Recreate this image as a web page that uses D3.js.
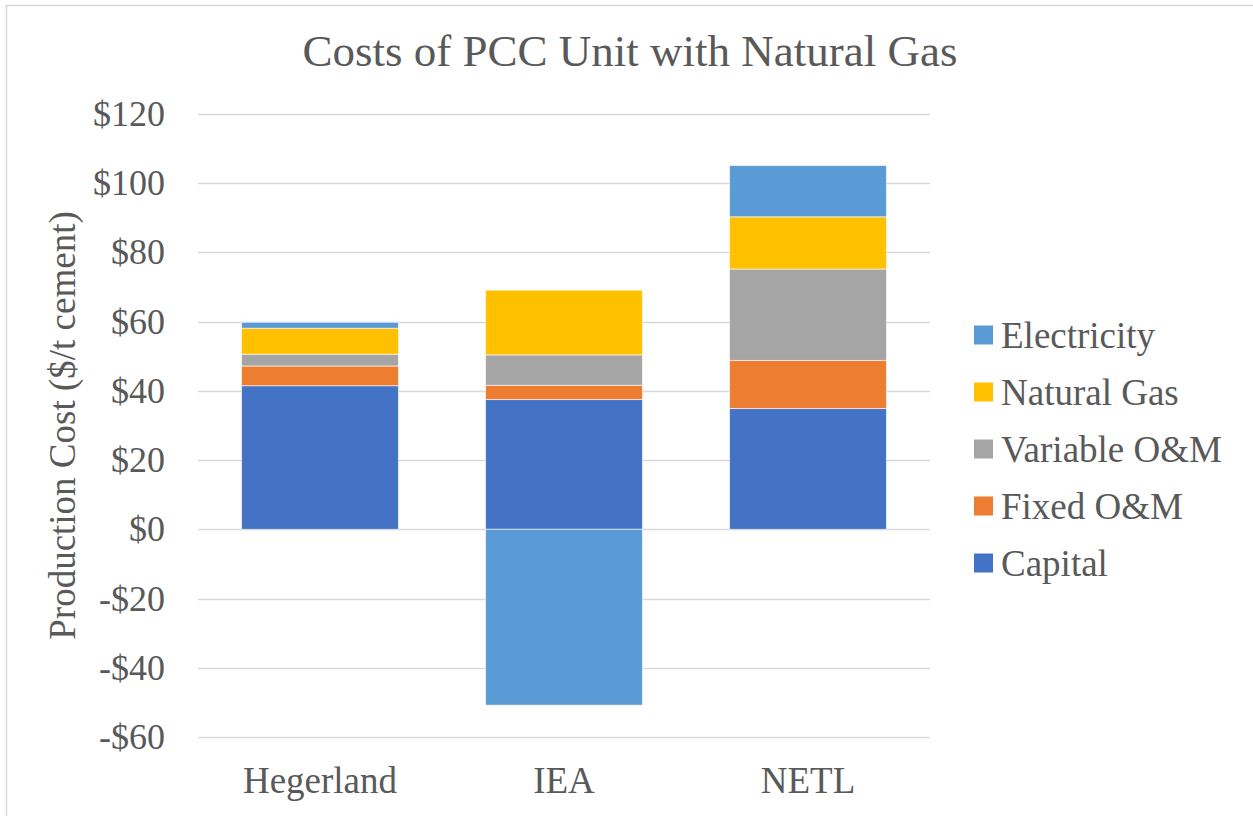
<!DOCTYPE html>
<html>
<head>
<meta charset="utf-8">
<script src="https://cdn.jsdelivr.net/npm/d3@7"></script>
<style>
  body { margin: 0; background: #fff; }
  text { font-family: "Liberation Serif", "Times New Roman", serif; fill: #595959; }
</style>
</head>
<body>
<div id="chart"></div>
<script>
// data
const categories = ['Hegerland', 'IEA', 'NETL'];
const capital = [41.5, 37.5, 34.9];
const fixedOM = [5.7, 4.1, 13.9];
const variableOM = [3.4, 8.8, 26.4];
const naturalGas = [7.5, 18.7, 15.1];
const electricity = [1.7, -50.8, 14.8];
const yTicks = [-60, -40, -20, 0, 20, 40, 60, 80, 100, 120];

const seriesNames = ['Capital', 'Fixed O&M', 'Variable O&M', 'Natural Gas', 'Electricity'];
const seriesValues = [capital, fixedOM, variableOM, naturalGas, electricity];
const colors = ['#4472C4', '#ED7D31', '#A5A5A5', '#FFC000', '#5B9BD5'];

const width = 1253, height = 816;
const margin = {top: 114, right: 323, bottom: 79, left: 198};
const innerW = width - margin.left - margin.right;
const innerH = height - margin.top - margin.bottom;

// build rows for d3.stack
const rows = categories.map((c, i) => {
  const r = {cat: c};
  seriesNames.forEach((s, j) => { r[s] = seriesValues[j][i]; });
  return r;
});

const stacked = d3.stack()
  .keys(seriesNames)
  .offset(d3.stackOffsetDiverging)(rows);

const svg = d3.select('#chart')
  .append('svg')
  .attr('width', width)
  .attr('height', height);

// chart border (top and left visible)
svg.append('rect')
  .attr('x', 6.5).attr('y', 5.5)
  .attr('width', width + 10).attr('height', height + 10)
  .attr('fill', 'none')
  .attr('stroke', '#d9d9d9')
  .attr('stroke-width', 1.5);

const g = svg.append('g')
  .attr('transform', 'translate(' + margin.left + ',' + margin.top + ')');

const x = d3.scaleBand()
  .domain(categories)
  .range([0, innerW])
  .paddingInner(0.357)
  .paddingOuter(0.1785);

const y = d3.scaleLinear()
  .domain([-60, 120])
  .range([innerH, 0]);

// gridlines
g.append('g')
  .selectAll('line')
  .data(yTicks)
  .enter()
  .append('line')
  .attr('x1', 0)
  .attr('x2', innerW)
  .attr('y1', d => Math.round(y(d)) + 0.5)
  .attr('y2', d => Math.round(y(d)) + 0.5)
  .attr('stroke', '#d9d9d9')
  .attr('stroke-width', 1.5);

// bars
g.append('g')
  .selectAll('g')
  .data(stacked)
  .enter()
  .append('g')
  .attr('fill', (d, i) => colors[i])
  .selectAll('rect')
  .data(d => d)
  .enter()
  .append('rect')
  .attr('x', d => x(d.data.cat))
  .attr('width', x.bandwidth())
  .attr('y', d => y(Math.max(d[0], d[1])))
  .attr('height', d => Math.abs(y(d[0]) - y(d[1])))
  .attr('stroke', 'rgba(255,255,255,0.6)')
  .attr('stroke-width', 1);

// y axis labels
const yAxis = g.append('g')
  .call(d3.axisLeft(y).tickValues(yTicks).tickSize(0).tickPadding(33)
    .tickFormat(d => (d < 0 ? '-$' : '$') + Math.abs(d)));
yAxis.select('.domain').remove();
yAxis.selectAll('.tick text')
  .style('font-family', '"Liberation Serif", "Times New Roman", serif')
  .style('font-size', '36px')
  .attr('fill', '#595959');

// x axis labels
const xAxis = g.append('g')
  .attr('transform', 'translate(0,' + innerH + ')')
  .call(d3.axisBottom(x).tickSize(0).tickPadding(30));
xAxis.select('.domain').remove();
xAxis.selectAll('.tick text')
  .style('font-family', '"Liberation Serif", "Times New Roman", serif')
  .style('font-size', '37px')
  .attr('fill', '#595959');

// title
svg.append('text')
  .attr('x', 630)
  .attr('y', 66)
  .attr('text-anchor', 'middle')
  .style('font-size', '45px')
  .text('Costs of PCC Unit with Natural Gas');

// y axis title
svg.append('text')
  .attr('transform', 'translate(75,' + (margin.top + innerH / 2) + ') rotate(-90)')
  .attr('text-anchor', 'middle')
  .style('font-size', '37px')
  .text('Production Cost ($/t cement)');

// legend (reverse order: Electricity on top)
const legend = svg.append('g')
  .attr('transform', 'translate(974,335)');
const legendItems = legend.selectAll('g')
  .data(seriesNames.map((s, i) => ({name: s, color: colors[i]})).reverse())
  .enter()
  .append('g')
  .attr('transform', (d, i) => 'translate(0,' + (i * 57) + ')');
legendItems.append('rect')
  .attr('x', 0).attr('y', -9.5)
  .attr('width', 19).attr('height', 19)
  .attr('fill', d => d.color);
legendItems.append('text')
  .attr('x', 27)
  .attr('dy', '0.34em')
  .style('font-size', '37px')
  .text(d => d.name);
</script>
</body>
</html>
